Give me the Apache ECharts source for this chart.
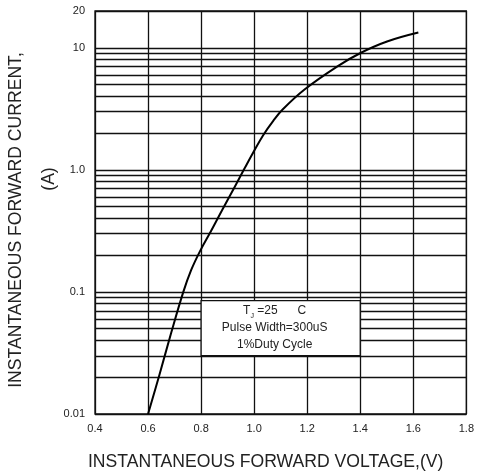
<!DOCTYPE html>
<html>
<head>
<meta charset="utf-8">
<script src="https://cdn.jsdelivr.net/npm/echarts@6/dist/echarts.min.js"></script>
<style>
html,body{margin:0;padding:0;background:#fff;}
#chart{width:477px;height:476px;}
</style>
</head>
<body>
<div id="chart"></div>
<script>
// Forward voltage (V) and instantaneous forward current (A)
const voltages = [0.600, 0.643, 0.687, 0.733, 0.762, 0.796, 0.837, 0.881, 0.926, 0.963, 0.997, 1.034, 1.072, 1.109, 1.190, 1.314, 1.401, 1.501, 1.619];
const currents = [0.010, 0.021, 0.046, 0.100, 0.150, 0.216, 0.314, 0.476, 0.721, 1.019, 1.393, 1.922, 2.521, 3.150, 4.555, 7.047, 9.060, 11.25, 13.32];
// x tick labels
const xTicks = [0.4, 0.6, 0.8, 1.0, 1.2, 1.4, 1.6, 1.8];
// y major tick labels
const yTickLabels = {"0.01": "0.01", "0.1": "0.1", "1": "1.0", "10": "10", "20": "20"};
// log-paper minor grid lines
const minorCurrents = [0.02,0.03,0.04,0.05,0.06,0.07,0.08,0.09,
                       0.2,0.3,0.4,0.5,0.6,0.7,0.8,0.9,
                       2,3,4,5,6,7,8,9];
// note box corners (V, A)
const noteBox = [[0.8, 0.085], [1.4, 0.03]];
const noteLines = ["T{s|J} =25      C", "Pulse Width=300uS", "1%Duty Cycle"];

const chart = echarts.init(document.getElementById('chart'));
const font = 'Liberation Sans, Arial, sans-serif';
const lineColor = '#111';

chart.setOption({
  animation: false,
  backgroundColor: '#fff',
  grid: {left: 95, right: 7, top: 11, bottom: 59, show: true, borderColor: lineColor, borderWidth: 1.3},
  xAxis: {
    type: 'value', min: xTicks[0], max: xTicks[xTicks.length-1], interval: 0.2,
    name: 'INSTANTANEOUS FORWARD VOLTAGE,(V)', nameLocation: 'middle', nameGap: 39,
    nameTextStyle: {fontFamily: font, fontSize: 17.6, color: '#222', padding: [0, 30, 0, 0]},
    axisLine: {show: false}, axisTick: {show: false},
    axisLabel: {fontFamily: font, fontSize: 11, color: '#222', margin: 9,
      formatter: v => v.toFixed(1)},
    splitLine: {show: true, lineStyle: {color: lineColor, width: 1.3}}
  },
  yAxis: {
    type: 'log', logBase: 10, min: 0.01, max: 20, interval: 1,
    axisLine: {show: false}, axisTick: {show: false}, minorTick: {show: false},
    axisLabel: {fontFamily: font, fontSize: 11, color: '#222', margin: 10,
      formatter: v => { const k = String(+(+v).toPrecision(3)); return yTickLabels[k] !== undefined ? yTickLabels[k] : k; }},
    splitLine: {show: true, lineStyle: {color: lineColor, width: 1.3}}
  },
  graphic: [{
    type: 'text', x: 16, y: 220, rotation: Math.PI/2,
    style: {text: 'INSTANTANEOUS FORWARD CURRENT,', fontFamily: font, fontSize: 17.6, fill: '#222', align: 'center', verticalAlign: 'middle'}
  }, {
    type: 'text', x: 49, y: 179, rotation: Math.PI/2,
    style: {text: '(A)', fontFamily: font, fontSize: 17.6, fill: '#222', align: 'center', verticalAlign: 'middle'}
  }],
  series: [
    {
      type: 'line', data: [], z: 1, silent: true,
      markLine: {
        silent: true, symbol: 'none', z: 1, animation: false,
        label: {show: false},
        lineStyle: {color: lineColor, width: 1.3, type: 'solid'},
        data: minorCurrents.map(v => ({yAxis: v}))
      }
    },
    {
      type: 'line', data: [], z: 3, silent: true,
      markArea: {
        silent: true, z: 10,
        itemStyle: {color: '#fff', borderColor: lineColor, borderWidth: 1.3},
        label: {
          show: true, position: 'inside', offset: [-6, 0],
          formatter: noteLines.join('\n'),
          fontFamily: font, fontSize: 12, color: '#222', lineHeight: 17, align: 'center',
          rich: {s: {fontSize: 7, verticalAlign: 'bottom', fontFamily: font, color: '#222', lineHeight: 17}}
        },
        data: [[{coord: noteBox[0]}, {coord: noteBox[1]}]]
      }
    },
    {
      type: 'line', z: 5, smooth: 0.4, symbol: 'none',
      lineStyle: {color: '#000', width: 2},
      data: voltages.map((v, i) => [v, currents[i]])
    }
  ]
});
</script>
</body>
</html>
